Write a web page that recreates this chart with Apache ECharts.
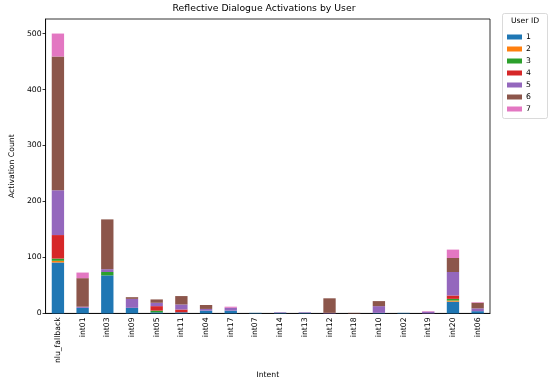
<!DOCTYPE html>
<html>
<head>
<meta charset="utf-8">
<script src="https://cdn.jsdelivr.net/npm/echarts@6/dist/echarts.min.js"></script>
<style>html,body{margin:0;padding:0;background:#fff}#c{width:550px;height:384px}</style>
</head>
<body>
<div id="c"></div>
<script>
const categories = ["nlu_fallback","int01","int03","int09","int05","int11","int04","int17","int07","int14","int13","int12","int18","int10","int02","int19","int20","int06"];
const userIds = ["1","2","3","4","5","6","7"];
const user1 = [91, 10, 68, 10, 2, 2, 5, 5, 1, 1, 1, 0, 0, 1, 1, 0, 21, 4];
const user2 = [3, 0, 0, 0, 0, 0, 0, 0, 0, 0, 0, 0, 0, 0, 0, 0, 2, 0];
const user3 = [4, 0, 6, 0, 3, 0, 0, 0, 0, 0, 0, 0, 0, 0, 0, 0, 3, 0];
const user4 = [42, 0, 0, 0, 8, 5, 0, 0, 0, 0, 0, 0, 0, 0, 0, 0, 6, 0];
const user5 = [80, 2, 5, 16, 6, 9, 3, 5, 0, 1, 1, 1, 0, 12, 0, 3, 42, 5];
const user6 = [239, 51, 89, 3, 6, 15, 7, 0, 0, 0, 0, 26, 1, 9, 0, 0, 25, 10];
const user7 = [41, 10, 0, 0, 0, 0, 0, 2, 0, 0, 0, 0, 0, 0, 0, 1, 15, 1];
const yTicks = [0, 100, 200, 300, 400, 500];

const seriesData = [user1, user2, user3, user4, user5, user6, user7];
const colors = ["#1f77b4","#ff7f0e","#2ca02c","#d62728","#9467bd","#8c564b","#e377c2"];
const font = "DejaVu Sans";

const chart = echarts.init(document.getElementById('c'), null, {renderer: 'canvas'});
chart.setOption({
  animation: false,
  color: colors,
  title: {
    text: "Reflective Dialogue Activations by User",
    left: 264, top: 4, textAlign: 'center', padding: 0,
    textStyle: {fontFamily: font, fontSize: 9.3, fontWeight: 'normal', color: '#000'}
  },
  grid: {left: 37, right: 60, top: 19, bottom: 66, show: true, borderColor: '#000', borderWidth: 0.8, backgroundColor: 'transparent'},
  legend: {
    orient: 'vertical', left: 507, top: 32, padding: 0,
    itemWidth: 15, itemHeight: 5, itemGap: 2,
    icon: 'rect',
    data: userIds,
    textStyle: {fontFamily: font, fontSize: 7.7, color: '#000', lineHeight: 10, padding: [0,0,0,-1]}
  },
  graphic: [
    {type: 'rect', shape: {x: 502.5, y: 13.5, width: 45, height: 105, r: 2}, style: {fill: '#fff', stroke: '#d0d0d0', lineWidth: 0.8}, z: -1},
    {type: 'text', x: 525, y: 21, style: {text: 'User ID', fontFamily: font, fontSize: 7.7, fill: '#000', align: 'center', verticalAlign: 'middle'}}
  ],
  xAxis: {
    type: 'category', data: categories,
    name: 'Intent', nameLocation: 'middle', nameGap: 57,
    nameTextStyle: {fontFamily: font, fontSize: 7.7, color: '#000'},
    axisLine: {lineStyle: {color: '#000', width: 0.8}},
    axisTick: {alignWithLabel: true, length: 3, lineStyle: {color: '#000', width: 0.8}},
    axisLabel: {rotate: 90, fontFamily: font, fontSize: 7.7, color: '#000', margin: 4, interval: 0}
  },
  yAxis: {
    type: 'value', min: 0, max: 526, interval: 100,
    name: 'Activation Count', nameLocation: 'middle', nameGap: 29,
    nameTextStyle: {fontFamily: font, fontSize: 7.7, color: '#000'},
    splitLine: {show: false},
    axisLine: {show: true, lineStyle: {color: '#000', width: 0.8}},
    axisTick: {show: true, length: 3, customValues: yTicks, lineStyle: {color: '#000', width: 0.8}},
    axisLabel: {fontFamily: font, fontSize: 7.7, color: '#000', margin: 4, customValues: yTicks}
  },
  series: seriesData.map((d, i) => ({
    name: userIds[i], type: 'bar', stack: 'total', data: d,
    barWidth: '50%', itemStyle: {color: colors[i]}
  }))
});
</script>
</body>
</html>
